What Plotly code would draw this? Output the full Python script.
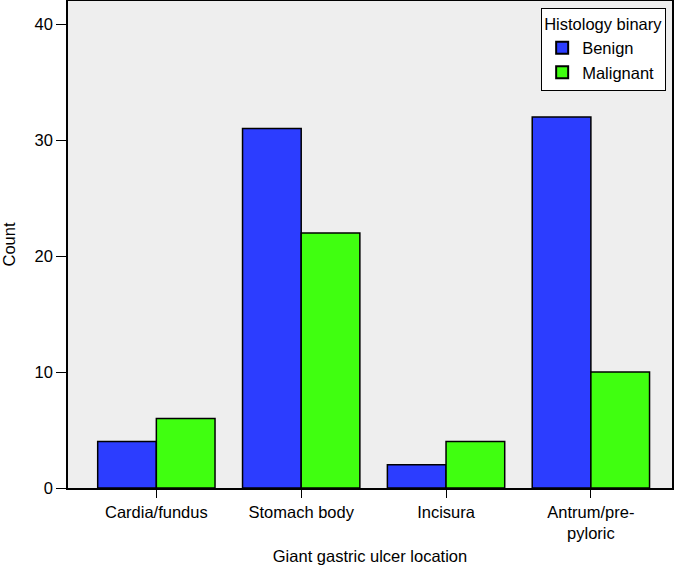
import plotly.graph_objects as go

categories = ["Cardia/fundus", "Stomach body", "Incisura", "Antrum/pre-<br>pyloric"]
benign = [4, 31, 2, 32]
malignant = [6, 22, 4, 10]
y_ticks = [0, 10, 20, 30, 40]

FONT = "Liberation Sans, Arial, Helvetica, sans-serif"
FS = 16.5

fig = go.Figure()
fig.add_trace(go.Bar(name="Benign", x=categories, y=benign,
                     marker=dict(color="#2c3dff", line=dict(color="black", width=1.5))))
fig.add_trace(go.Bar(name="Malignant", x=categories, y=malignant,
                     marker=dict(color="#40ff10", line=dict(color="black", width=1.5))))

fig.update_layout(
    width=681, height=565,
    barmode="group", bargap=0.19, bargroupgap=0,
    paper_bgcolor="white", plot_bgcolor="#eeeeee",
    margin=dict(l=68, r=9, t=1, b=77, autoexpand=False),
    font=dict(family=FONT, size=FS, color="black"),
    legend=dict(
        title=dict(text="Histology binary", font=dict(size=FS)),
        x=0.99, xanchor="right", y=0.986, yanchor="top",
        bgcolor="white", bordercolor="black", borderwidth=1.2,
        font=dict(size=FS), itemsizing="constant",
        tracegroupgap=0,
    ),
    showlegend=True,
)
fig.update_xaxes(
    title=dict(text="Giant gastric ulcer location", font=dict(size=FS)),
    range=[-0.61, 3.56], automargin=False,
    showline=True, linecolor="black", linewidth=1.5, mirror=True,
    ticks="outside", ticklen=8, tickwidth=1.2, tickcolor="black",
    showgrid=False, zeroline=False,
)
fig.update_yaxes(
    title=dict(text="Count", font=dict(size=FS)),
    range=[0, 42], tickvals=y_ticks, automargin=False,
    showline=True, linecolor="black", linewidth=1.5, mirror=True,
    ticks="outside", ticklen=10, tickwidth=1.2, tickcolor="black",
    showgrid=False, zeroline=False,
)

fig.write_html("out.html", config={"displayModeBar": False},
               post_script="document.body.style.margin='0';")
